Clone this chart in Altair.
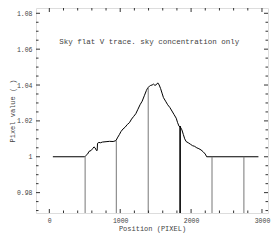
import altair as alt
import pandas as pd

# Curve (position in PIXEL, pixel value)
curve_x = [50, 500, 510, 540, 560, 590, 610, 630, 645, 665, 675, 680, 700, 720, 750, 800, 850, 900, 940,
           960, 990, 1010, 1040, 1070, 1100, 1130, 1160, 1190, 1220, 1250, 1280, 1310, 1340, 1370, 1390,
           1410, 1430, 1450, 1470, 1490, 1510, 1530, 1550, 1570, 1590, 1610, 1640, 1670, 1700, 1730, 1760,
           1790, 1810, 1830, 1850, 1870, 1890, 1910, 1930, 1960, 1990, 2020, 2050, 2080, 2110, 2140, 2170,
           2200, 2220, 2950]
curve_y = [1.0, 1.0, 1.0005, 1.0015, 1.003, 1.0035, 1.0045, 1.0055, 1.005, 1.0035, 1.0035, 1.0075, 1.008,
           1.0078, 1.0082, 1.0084, 1.0086, 1.0085, 1.009, 1.0105, 1.0125, 1.014, 1.0155, 1.0165, 1.018,
           1.019, 1.021, 1.0225, 1.024, 1.0265, 1.029, 1.031, 1.034, 1.037, 1.0385, 1.0392, 1.0398, 1.04,
           1.0405, 1.0398, 1.0402, 1.0412, 1.04, 1.038, 1.0355, 1.033, 1.031, 1.029, 1.0275, 1.0255, 1.0235,
           1.0215, 1.019, 1.017, 1.0165, 1.015, 1.0125, 1.01, 1.0085, 1.0078, 1.007, 1.0062, 1.0058, 1.005,
           1.0045, 1.0038, 1.0028, 1.0015, 1.0, 1.0]

# Vertical markers
vline_x = [505, 945, 1395, 1845, 2295, 2745]
vline_top = [1.0004, 1.0091, 1.0389, 1.0171, 1.0, 1.0]
vline_kind = ["thin", "thin", "thin", "bold", "thin", "thin"]

# Axis ticks
x_major = [0, 1000, 2000, 3000]
x_minor = [200, 400, 600, 800, 1200, 1400, 1600, 1800, 2200, 2400, 2600, 2800]
y_major = [0.98, 1.0, 1.02, 1.04, 1.06, 1.08]
y_minor = [0.97, 0.975, 0.985, 0.99, 0.995, 1.005, 1.01, 1.015, 1.025, 1.03, 1.035,
           1.045, 1.05, 1.055, 1.065, 1.07, 1.075]

note = "Sky flat V trace. sky concentration only"

W, H = 232, 205
FONT = "Liberation Mono"
TXT = "#444444"

xs = alt.Scale(domain=[-188, 3085], nice=False, zero=False)
ys = alt.Scale(domain=[0.96864, 1.08295], nice=False, zero=False)

curve_df = pd.DataFrame({"x": curve_x, "y": curve_y})
vl_df = pd.DataFrame({"x": vline_x, "top": vline_top, "kind": vline_kind})

x_axis = alt.Axis(values=x_major, ticks=False, domain=False, grid=False, labelFont=FONT, format="d",
                  labelFontSize=6.5, labelColor=TXT, labelPadding=4, title="Position (PIXEL)",
                  titleFont=FONT, titleFontSize=7, titleFontWeight="normal", titleColor=TXT,
                  titlePadding=1)
y_axis = alt.Axis(values=y_major, ticks=False, domain=False, grid=False, labelFont=FONT,
                  labelFontSize=6.5, labelColor=TXT, labelPadding=4, format="~g",
                  title="Pixel value ( )", titleFont=FONT, titleFontSize=7,
                  titleFontWeight="normal", titleColor=TXT, titlePadding=1)

line = alt.Chart(curve_df).mark_line(color="black", strokeWidth=1, interpolate="linear").encode(
    x=alt.X("x:Q", scale=xs, axis=x_axis),
    y=alt.Y("y:Q", scale=ys, axis=y_axis),
)

vlines = alt.Chart(vl_df).mark_rule().encode(
    x=alt.X("x:Q", scale=xs),
    y=alt.Y("top:Q", scale=ys),
    y2=alt.value(H),
    color=alt.Color("kind:N", scale=alt.Scale(domain=["thin", "bold"], range=["#777777", "#000000"]),
                    legend=None),
    strokeWidth=alt.StrokeWidth("kind:N", scale=alt.Scale(domain=["thin", "bold"], range=[1, 1.6]),
                                legend=None),
)

tick_color = "#333333"


def xticks(vals, ln):
    df = pd.DataFrame({"v": vals})
    b = alt.Chart(df).mark_rule(color=tick_color, strokeWidth=1).encode(
        x=alt.X("v:Q", scale=xs), y=alt.value(H), y2=alt.value(H - ln))
    t = alt.Chart(df).mark_rule(color=tick_color, strokeWidth=1).encode(
        x=alt.X("v:Q", scale=xs), y=alt.value(0), y2=alt.value(ln))
    return [b, t]


def yticks(vals, ln):
    df = pd.DataFrame({"v": vals})
    l = alt.Chart(df).mark_rule(color=tick_color, strokeWidth=1).encode(
        y=alt.Y("v:Q", scale=ys), x=alt.value(0), x2=alt.value(ln))
    r = alt.Chart(df).mark_rule(color=tick_color, strokeWidth=1).encode(
        y=alt.Y("v:Q", scale=ys), x=alt.value(W), x2=alt.value(W - ln))
    return [l, r]


ticks = xticks(x_major, 4) + xticks(x_minor, 2.5) + yticks(y_major, 4) + yticks(y_minor, 2.5)

label = alt.Chart(pd.DataFrame({"t": [note]})).mark_text(
    font=FONT, fontSize=7.5, color=TXT, align="center", baseline="middle").encode(
    x=alt.X("xx:Q", scale=xs), y=alt.Y("yy:Q", scale=ys), text="t:N"
).transform_calculate(xx="1410", yy="1.0642")

chart = alt.layer(line, vlines, *ticks, label).properties(
    width=W, height=H,
    autosize=alt.AutoSizeParams(type="none"),
    padding={"left": 28, "top": 0, "right": 3, "bottom": 20},
).configure_view(stroke="#333333", strokeWidth=1).configure(background="white")

chart.save("out.html", embed_options={"renderer": "svg", "actions": False})
